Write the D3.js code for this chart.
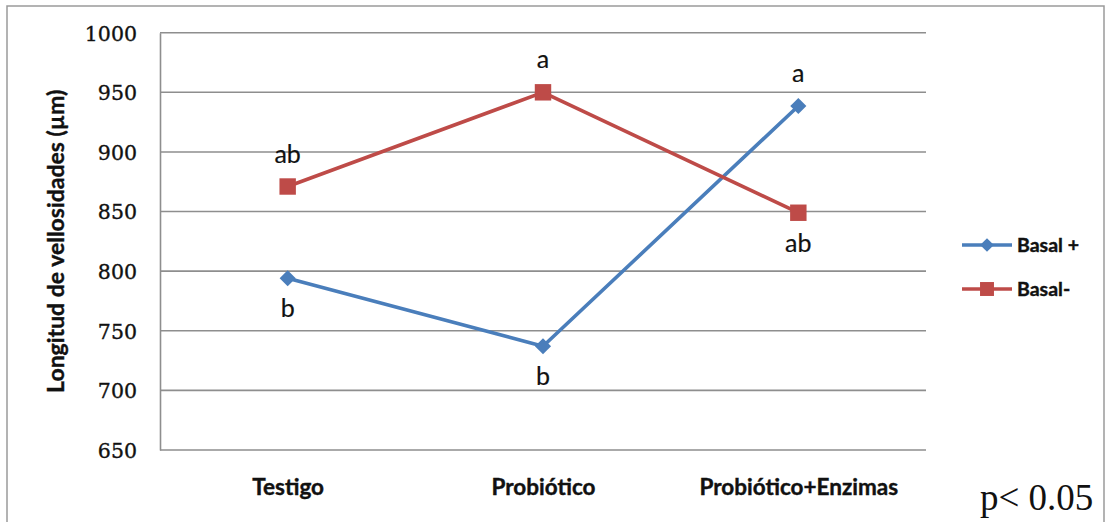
<!DOCTYPE html>
<html><head><meta charset="utf-8">
<script src="https://cdn.jsdelivr.net/npm/d3@7/dist/d3.min.js"></script>
<style>body{margin:0;background:#fff}svg{display:block}</style>
</head><body>
<svg id="c" width="1105" height="522"></svg>
<script>
const categories = ["Testigo", "Probiótico", "Probiótico+Enzimas"];
const seriesNames = ["Basal +", "Basal-"];
const basalPlus = [794, 737, 938.5];
const basalMinus = [871, 950, 849];
const lettersPlus = ["b", "b", "a"];
const lettersMinus = ["ab", "a", "ab"];
const lettersPlusPos = ["below", "below", "above"];
const lettersMinusPos = ["above", "above", "below"];
const yTicks = [650, 700, 750, 800, 850, 900, 950, 1000];
const yTitle = "Longitud de vellosidades (µm)";
const note = "p< 0.05";

const colors = ["#4A7EBB", "#BE4B48"];
const svg = d3.select("#c");
const L = 160, R = 926, T = 32.7, B = 450;

// outer frame
svg.append("path").attr("d", `M7,530 V6 H1104 V530`).attr("fill","none")
  .attr("stroke","#9a9a9a").attr("stroke-width",1.5);

const x = d3.scalePoint().domain(categories).range([L, R]).padding(0.5);
const y = d3.scaleLinear().domain([650, 1000]).range([B, T]);

// gridlines
svg.append("g").selectAll("line").data(yTicks).join("line")
  .attr("x1", L).attr("x2", R).attr("y1", d => y(d)).attr("y2", d => y(d))
  .attr("stroke", "#8e8e8e").attr("stroke-width", 1.6);

// y axis
const ya = svg.append("g").attr("transform", `translate(${L},0)`)
  .call(d3.axisLeft(y).tickValues(yTicks).tickFormat(d3.format("d")).tickSize(0).tickPadding(23));
ya.select(".domain").attr("stroke", "#8e8e8e").attr("stroke-width", 1.6);
ya.selectAll("text").attr("font-family", "DejaVu Serif").attr("font-size", 20.5)
  .attr("fill", "#111").attr("stroke", "#111").attr("stroke-width", 0.35).attr("dy", "0.36em");

// x axis labels
const xa = svg.append("g").attr("transform", `translate(0,${B})`)
  .call(d3.axisBottom(x).tickSize(0).tickPadding(0));
xa.select(".domain").remove();
xa.selectAll("text").attr("font-family", "Lato").attr("font-weight", "bold")
  .attr("font-size", 22.5).attr("fill", "#111").attr("stroke", "#111").attr("stroke-width", 0.4)
  .attr("dy", null).attr("y", 45);

// y title
svg.append("text").attr("transform", `translate(64,${(T + B) / 2}) rotate(-90)`)
  .attr("text-anchor", "middle").attr("font-family", "Lato").attr("font-weight", "bold")
  .attr("font-size", 23).attr("fill", "#111").attr("stroke", "#111").attr("stroke-width", 0.4)
  .text(yTitle);

const series = [
  {name: seriesNames[0], values: basalPlus, letters: lettersPlus, pos: lettersPlusPos, color: colors[0], shape: "diamond"},
  {name: seriesNames[1], values: basalMinus, letters: lettersMinus, pos: lettersMinusPos, color: colors[1], shape: "square"}
];

const line = d3.line().x((d, i) => x(categories[i])).y(d => y(d));
function marker(shape, scale) {
  if (shape === "diamond") return d3.symbol(d3.symbolSquare, 130 * scale)();
  return d3.symbol(d3.symbolSquare, 270 * scale)();
}

series.forEach(s => {
  const g = svg.append("g");
  g.append("path").datum(s.values).attr("d", line).attr("fill", "none")
    .attr("stroke", s.color).attr("stroke-width", 3.6).attr("stroke-linejoin", "round");
  g.selectAll("path.m").data(s.values).join("path").attr("class", "m")
    .attr("d", marker(s.shape, 1))
    .attr("transform", (d, i) => `translate(${x(categories[i])},${y(d)})` + (s.shape === "diamond" ? " rotate(45)" : ""))
    .attr("fill", s.color);
  g.selectAll("text").data(s.values).join("text")
    .attr("x", (d, i) => x(categories[i]))
    .attr("y", (d, i) => y(d) + (s.pos[i] === "above" ? -24 : 39))
    .attr("text-anchor", "middle").attr("font-family", "Lato").attr("font-size", 25)
    .attr("fill", "#111").attr("stroke", "#111").attr("stroke-width", 0.2).text((d, i) => s.letters[i]);
});

// legend
const lg = svg.append("g");
series.forEach((s, i) => {
  const ly = 245 + i * 44;
  lg.append("line").attr("x1", 962).attr("x2", 1012).attr("y1", ly).attr("y2", ly)
    .attr("stroke", s.color).attr("stroke-width", 3.6);
  lg.append("path").attr("d", marker(s.shape, 0.72))
    .attr("transform", `translate(987,${ly})` + (s.shape === "diamond" ? " rotate(45)" : ""))
    .attr("fill", s.color);
  lg.append("text").attr("x", 1017).attr("y", ly + 6.5).attr("font-family", "Lato")
    .attr("font-weight", "bold").attr("font-size", 19.5).attr("fill", "#111")
    .attr("stroke", "#111").attr("stroke-width", 0.4).text(s.name);
});

svg.append("text").attr("x", 980).attr("y", 510).attr("font-family", "Liberation Serif")
  .attr("font-size", 37).attr("fill", "#111").text(note);
</script>
</body></html>
